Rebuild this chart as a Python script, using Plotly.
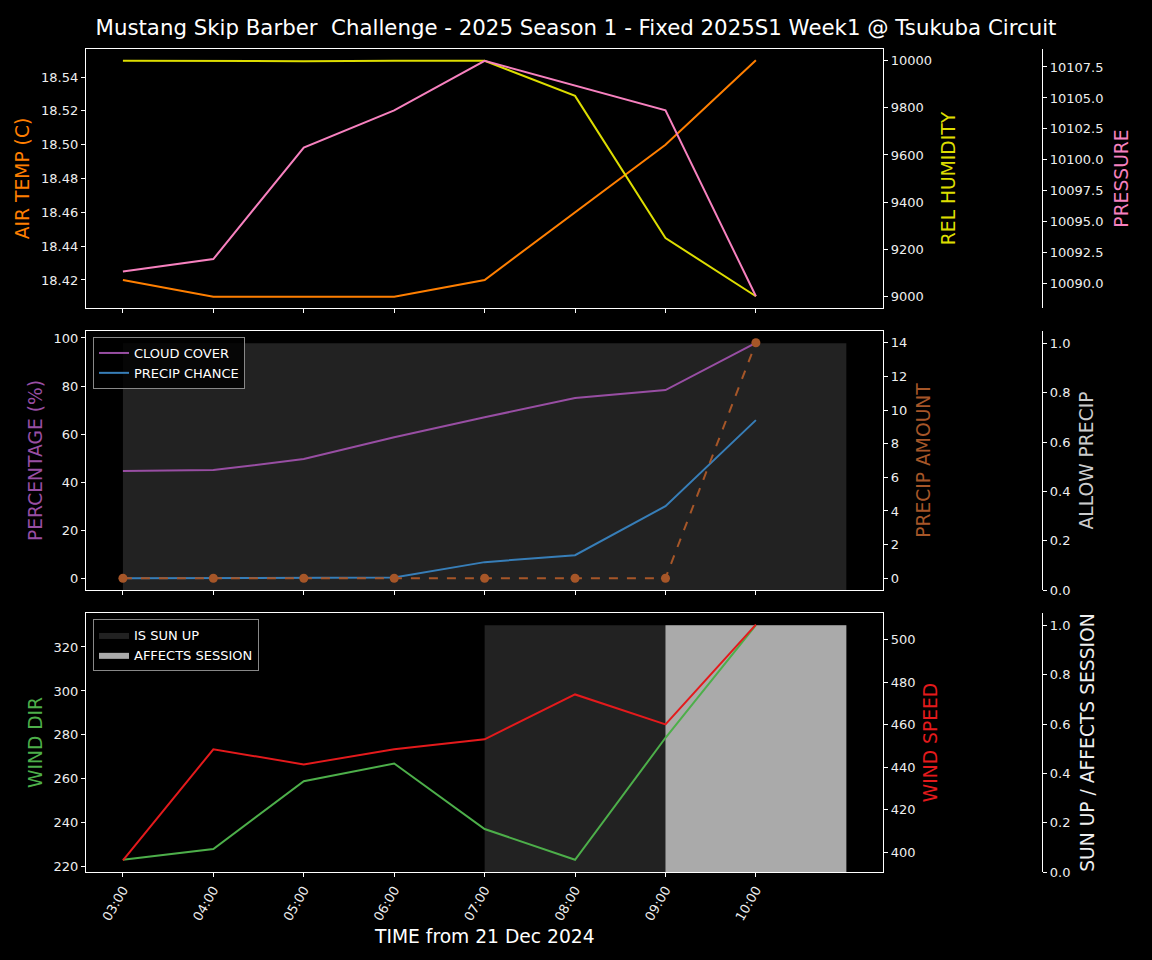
import plotly.graph_objects as go

# ---------------- data ----------------
times = ["2024-12-21 03:00", "2024-12-21 04:00", "2024-12-21 05:00", "2024-12-21 06:00",
         "2024-12-21 07:00", "2024-12-21 08:00", "2024-12-21 09:00", "2024-12-21 10:00"]
shade_times = times + ["2024-12-21 11:00"]
tick_labels = ["03:00", "04:00", "05:00", "06:00", "07:00", "08:00", "09:00", "10:00"]

air_temp = [18.42, 18.41, 18.41, 18.41, 18.42, 18.46, 18.50, 18.55]
rel_humidity = [10000, 9998, 9998, 10000, 10000, 9851, 9247, 9000]
pressure = [10091.0, 10092.0, 10101.0, 10104.0, 10108.0, 10106.0, 10104.0, 10089.0]

cloud_cover = [44.6, 45.0, 49.6, 58.7, 67.0, 75.0, 78.3, 98.0]
precip_chance = [0.0, 0.0, 0.0, 0.3, 6.7, 9.6, 30.0, 65.8]
precip_amount = [0, 0, 0, 0, 0, 0, 0, 14]
allow_precip = [1, 1, 1, 1, 1, 1, 1, 1, 1]

wind_dir = [223.2, 228.1, 258.9, 267.0, 237.2, 223.2, 278.7, 329.9]
wind_speed = [396.2, 448.4, 441.3, 448.4, 453.1, 474.2, 460.1, 507.0]
sun_up = [0, 0, 0, 0, 1, 1, 1, 1, 1]
affects_session = [0, 0, 0, 0, 0, 0, 1, 1, 1]

TITLE = "Mustang Skip Barber  Challenge - 2025 Season 1 - Fixed 2025S1 Week1 @ Tsukuba Circuit"

# ---------------- styles ----------------
C_TEMP = "#ff7f00"
C_HUM = "#dddd00"
C_PRES = "#f781bf"
C_CLOUD = "#984ea3"
C_PCHANCE = "#377eb8"
C_PAMT = "#a65628"
C_WDIR = "#4daf4a"
C_WSPD = "#e41a1c"
C_SUN = "#222222"
C_AFF = "#aaaaaa"
FONT = "DejaVu Sans"
W, H = 1152, 960

xl, xr = 86 / W, 883 / W
xfree = 1042 / W
dom_top = [1 - 308 / H, 1 - 49 / H]
dom_mid = [1 - 590 / H, 1 - 331 / H]
dom_bot = [1 - 872 / H, 1 - 613 / H]
xrange_ = ["2024-12-21 02:35:30", "2024-12-21 11:24:20"]

fig = go.Figure()

# top panel
fig.add_trace(go.Scatter(x=times, y=air_temp, mode="lines", line=dict(color=C_TEMP, width=2),
                         xaxis="x", yaxis="y", showlegend=False))
fig.add_trace(go.Scatter(x=times, y=rel_humidity, mode="lines", line=dict(color=C_HUM, width=2),
                         xaxis="x", yaxis="y2", showlegend=False))
fig.add_trace(go.Scatter(x=times, y=pressure, mode="lines", line=dict(color=C_PRES, width=2),
                         xaxis="x", yaxis="y3", showlegend=False))

# middle panel (base axis y4 = allow precip shading)
fig.add_trace(go.Scatter(x=shade_times, y=allow_precip, mode="lines", line=dict(width=0, shape="hv"),
                         fill="tozeroy", fillcolor=C_SUN, xaxis="x2", yaxis="y4", showlegend=False,
                         hoverinfo="skip"))
fig.add_trace(go.Scatter(x=times, y=cloud_cover, mode="lines", name="CLOUD COVER",
                         line=dict(color=C_CLOUD, width=2), xaxis="x2", yaxis="y5", legend="legend"))
fig.add_trace(go.Scatter(x=times, y=precip_chance, mode="lines", name="PRECIP CHANCE",
                         line=dict(color=C_PCHANCE, width=2), xaxis="x2", yaxis="y5", legend="legend"))
fig.add_trace(go.Scatter(x=times, y=precip_amount, mode="lines+markers",
                         line=dict(color=C_PAMT, width=2, dash="dash"), marker=dict(color=C_PAMT, size=9),
                         xaxis="x2", yaxis="y6", showlegend=False))

# bottom panel (base axis y7 = sun up / affects session shading)
fig.add_trace(go.Scatter(x=shade_times, y=sun_up, mode="lines", name="IS SUN UP",
                         line=dict(width=0, shape="hv"), fill="tozeroy", fillcolor=C_SUN,
                         xaxis="x3", yaxis="y7", legend="legend2", hoverinfo="skip"))
fig.add_trace(go.Scatter(x=shade_times, y=affects_session, mode="lines", name="AFFECTS SESSION",
                         line=dict(width=0, shape="hv"), fill="tozeroy", fillcolor=C_AFF,
                         xaxis="x3", yaxis="y7", legend="legend2", hoverinfo="skip"))
fig.add_trace(go.Scatter(x=times, y=wind_dir, mode="lines", line=dict(color=C_WDIR, width=2),
                         xaxis="x3", yaxis="y8", showlegend=False))
fig.add_trace(go.Scatter(x=times, y=wind_speed, mode="lines", line=dict(color=C_WSPD, width=2),
                         xaxis="x3", yaxis="y9", showlegend=False))

tickfont = dict(family=FONT, size=13, color="#eeeeee")
common_axis = dict(showgrid=False, zeroline=False, showline=True, linecolor="white", linewidth=1.3,
                   ticks="outside", ticklen=4, tickcolor="white", tickfont=tickfont, automargin=False)


def xax(anchor, labels):
    d = dict(common_axis)
    d.update(domain=[xl, xr], anchor=anchor, range=xrange_, type="date", mirror=True,
             tickmode="array", tickvals=times, ticktext=tick_labels, showticklabels=labels)
    if labels:
        d.update(tickangle=-60)
    return d


def yax(title, color, rng, domain, side="left", anchor="x", overlaying=None, position=None,
        dtick=None, fmt=None, tickvals=None, mirror=False, standoff=8):
    d = dict(common_axis)
    d.update(title=dict(text=title, font=dict(family=FONT, size=18.7, color=color), standoff=standoff),
             range=rng, domain=domain, side=side, anchor=anchor, mirror=mirror)
    if overlaying:
        d["overlaying"] = overlaying
    if position is not None:
        d["position"] = position
    if tickvals is not None:
        d.update(tickmode="array", tickvals=tickvals)
    elif dtick is not None:
        d["dtick"] = dtick
    if fmt:
        d["tickformat"] = fmt
    return d


fig.update_layout(
    width=W, height=H,
    paper_bgcolor="black", plot_bgcolor="black",
    margin=dict(l=0, r=0, t=0, b=0, autoexpand=False),
    font=dict(family=FONT, color="white"),
    title=dict(text=TITLE, x=0.5, xanchor="center", y=1 - 28 / H, yanchor="middle", automargin=False,
               font=dict(family=FONT, size=21.3, color="white")),
    xaxis=xax("y", False),
    xaxis2=xax("y4", False),
    xaxis3=xax("y7", True),
    yaxis=yax("AIR TEMP (C)", C_TEMP, [18.4034, 18.5566], dom_top, mirror=True,
              tickvals=[18.42, 18.44, 18.46, 18.48, 18.50, 18.52, 18.54], fmt=".2f", standoff=6),
    yaxis2=yax("REL HUMIDITY", C_HUM, [8950, 10050], dom_top, side="right", overlaying="y", dtick=200,
               fmt="d", standoff=10),
    yaxis3=yax("PRESSURE", C_PRES, [10088.05, 10108.95], dom_top, side="right", anchor="free",
               overlaying="y", position=xfree, dtick=2.5, fmt=".1f", standoff=12),
    yaxis4=yax("ALLOW PRECIP", "#cccccc", [0, 1.05], dom_mid, side="right", anchor="free",
               position=xfree, dtick=0.2, fmt=".1f", standoff=10),
    yaxis5=yax("PERCENTAGE (%)", C_CLOUD, [-4.9, 102.9], dom_mid, side="left", anchor="x2",
               overlaying="y4", dtick=20, mirror=True, standoff=5),
    yaxis6=yax("PRECIP AMOUNT", C_PAMT, [-0.7, 14.7], dom_mid, side="right", anchor="x2",
               overlaying="y4", dtick=2, standoff=10),
    yaxis7=yax("SUN UP / AFFECTS SESSION", "#eeeeee", [0, 1.05], dom_bot, side="right", anchor="free",
               position=xfree, dtick=0.2, fmt=".1f", standoff=11),
    yaxis8=yax("WIND DIR", C_WDIR, [217.65, 335.45], dom_bot, side="left", anchor="x3",
               overlaying="y7", dtick=20, mirror=True, standoff=5),
    yaxis9=yax("WIND SPEED", C_WSPD, [390.7, 512.5], dom_bot, side="right", anchor="x3",
               overlaying="y7", dtick=20, standoff=9),
    legend=dict(x=93 / W, y=1 - 337 / H, xanchor="left", yanchor="top", bgcolor="rgba(0,0,0,0.8)",
                bordercolor="#888888", borderwidth=1, font=dict(family=FONT, size=13, color="white")),
    legend2=dict(x=93 / W, y=1 - 619 / H, xanchor="left", yanchor="top", bgcolor="rgba(0,0,0,0.8)",
                 bordercolor="#888888", borderwidth=1, font=dict(family=FONT, size=13, color="white")),
    annotations=[dict(text="TIME from 21 Dec 2024", x=(xl + xr) / 2, y=1 - 936 / H, xref="paper",
                      yref="paper", xanchor="center", yanchor="middle", showarrow=False,
                      font=dict(family=FONT, size=18.7, color="white"))],
)

fig.write_html("out.html", config={"displayModeBar": False},
               post_script="document.body.style.margin='0';document.body.style.padding='0';"
                           "document.body.style.overflow='hidden';")
